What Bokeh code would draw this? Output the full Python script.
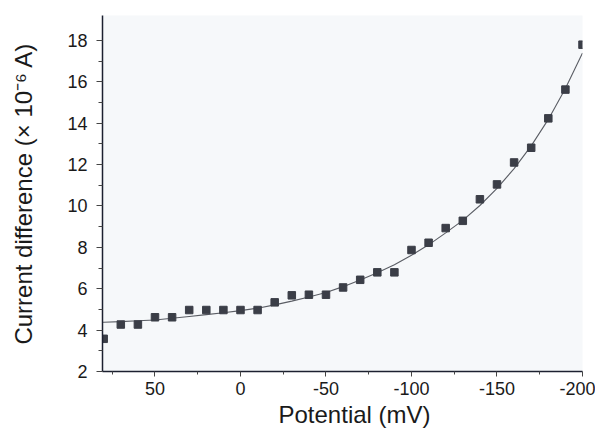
from bokeh.plotting import figure
from bokeh.models import ColumnDataSource, Range1d, FixedTicker, CustomJSTickFormatter, Title
from bokeh.embed import file_html
from bokeh.resources import INLINE

# Measured points (potential in mV, current difference in 1e-6 A)
potential = [80, 70, 60, 50, 40, 30, 20, 10, 0, -10, -20, -30, -40, -50, -60,
             -70, -80, -90, -100, -110, -120, -130, -140, -150, -160, -170,
             -180, -190, -200]
current = [3.58, 4.27, 4.27, 4.62, 4.62, 4.97, 4.97, 4.97, 4.97, 4.97, 5.34,
           5.68, 5.71, 5.71, 6.06, 6.43, 6.79, 6.79, 7.87, 8.22, 8.93, 9.28,
           10.32, 11.04, 12.10, 12.81, 14.23, 15.62, 17.79]

# Fitted curve
fit_potential = [80.7, 80, 70, 60, 50, 40, 30, 20, 10, 0, -10, -20, -30, -40,
                 -50, -60, -70, -80, -90, -100, -110, -120, -130, -140, -150,
                 -160, -170, -180, -190, -200]
fit_current = [4.38, 4.38, 4.41, 4.45, 4.49, 4.57, 4.66, 4.75, 4.84, 4.94,
               5.06, 5.22, 5.40, 5.60, 5.82, 6.10, 6.42, 6.77, 7.16, 7.62,
               8.12, 8.70, 9.30, 10.02, 10.85, 11.80, 12.90, 14.18, 15.67,
               17.39]

x_major = [50, 0, -50, -100, -150, -200]
x_minor = [75, 25, -25, -75, -125, -175]
y_major = [2, 4, 6, 8, 10, 12, 14, 16, 18]
y_minor = [3, 5, 7, 9, 11, 13, 15, 17]

x_title = "Potential (mV)"
y_title = "Current difference (× 10⁻⁶ A)"

pts = ColumnDataSource(dict(x=potential, y=current))
fit = ColumnDataSource(dict(x=fit_potential, y=fit_current))

p = figure(width=595, height=432, output_backend="svg", toolbar_location=None,
           x_range=Range1d(80.7, -200), y_range=Range1d(2, 19.2),
           min_border_left=102, min_border_right=13, min_border_top=15,
           min_border_bottom=61)
p.background_fill_color = "#f6f8fa"
p.border_fill_color = "white"
p.outline_line_color = None
p.grid.visible = False

p.line("x", "y", source=fit, line_color="#5a5d64", line_width=1.1)
p.scatter("x", "y", source=pts, marker="square", size=7.5,
          fill_color="#3b3e47", line_color="#3b3e47")

FONT = "Liberation Sans"
fmt = CustomJSTickFormatter(code="return String(Math.round(tick));")
for ax in (p.xaxis[0], p.yaxis[0]):
    ax.formatter = fmt
    ax.axis_line_color = "#1c2030"
    ax.axis_line_width = 1.5
    ax.major_tick_line_color = "#444"
    ax.minor_tick_line_color = "#444"
    ax.major_label_text_font = FONT
    ax.major_label_text_font_size = "18px"
    ax.major_label_text_color = "#1a1a1a"
    ax.axis_label_text_font = FONT
    ax.axis_label_text_font_size = "24px"
    ax.axis_label_text_font_style = "normal"
    ax.axis_label_text_color = "#1a1a1a"
    ax.major_tick_in = 0
    ax.minor_tick_in = 0

p.xaxis[0].ticker = FixedTicker(ticks=x_major, minor_ticks=x_minor)
p.yaxis[0].ticker = FixedTicker(ticks=y_major, minor_ticks=y_minor)
p.xaxis[0].major_tick_out = 5
p.xaxis[0].minor_tick_out = 3
p.xaxis[0].major_label_standoff = 5
p.yaxis[0].major_tick_out = 6
p.yaxis[0].minor_tick_out = 4
p.yaxis[0].major_label_standoff = 9
p.yaxis[0].axis_label = y_title
p.yaxis[0].axis_label_standoff = 27

# x-axis title, placed slightly right of centre as in the reference
p.add_layout(Title(text=x_title, align="left", offset=176, standoff=2,
                   text_font=FONT, text_font_size="24px",
                   text_font_style="normal", text_color="#1a1a1a"), "below")

open("out.html", "w").write(file_html(p, INLINE))
